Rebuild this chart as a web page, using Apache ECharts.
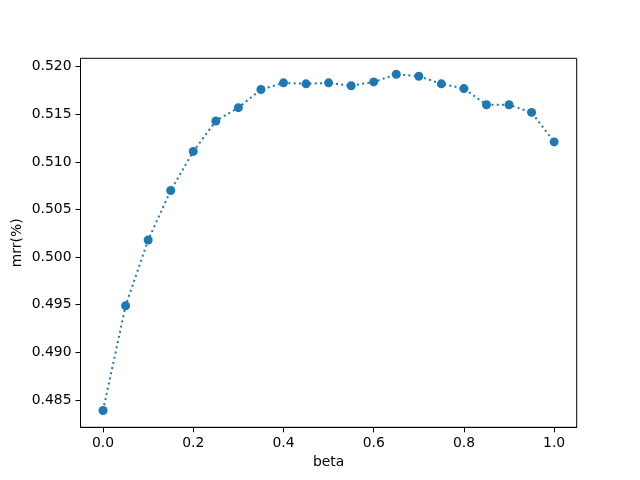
<!DOCTYPE html>
<html>
<head>
<meta charset="utf-8">
<script src="https://cdn.jsdelivr.net/npm/echarts@6/dist/echarts.min.js"></script>
<style>
  html, body { margin: 0; padding: 0; background: #fff; }
  #chart { width: 640px; height: 480px; }
</style>
</head>
<body>
<div id="chart"></div>
<script>
// values
const beta = [0.0, 0.05, 0.1, 0.15, 0.2, 0.25, 0.3, 0.35, 0.4, 0.45, 0.5,
  0.55, 0.6, 0.65, 0.7, 0.75, 0.8, 0.85, 0.9, 0.95, 1.0];
const mrr = [0.4839, 0.4949, 0.5018, 0.5070, 0.5111, 0.5143, 0.5157, 0.5176,
  0.5183, 0.5182, 0.5183, 0.5180, 0.5184, 0.5192, 0.5190, 0.5182, 0.5177,
  0.5160, 0.5160, 0.5152, 0.5121];
const xTicks = [0.0, 0.2, 0.4, 0.6, 0.8, 1.0];
const yTicks = [0.485, 0.490, 0.495, 0.500, 0.505, 0.510, 0.515, 0.520];

const font = "DejaVu Sans";
const chart = echarts.init(document.getElementById("chart"));

chart.setOption({
  animation: false,
  textStyle: { fontFamily: font },
  grid: {
    left: 80.5, right: 63.3, top: 58.3, bottom: 52.7,
    show: true, borderColor: "#000", borderWidth: 1
  },
  xAxis: {
    type: "value",
    min: -0.05, max: 1.05,
    name: "beta",
    nameLocation: "middle",
    nameGap: 27,
    nameTextStyle: { fontFamily: font, fontSize: 13.9, color: "#000" },
    axisLine: { show: true, onZero: false, lineStyle: { color: "#000", width: 1 } },
    axisTick: { show: true, length: 5, lineStyle: { color: "#000" }, customValues: xTicks },
    axisLabel: {
      fontFamily: font, fontSize: 13.9, color: "#000", margin: 9,
      customValues: xTicks,
      formatter: v => v.toFixed(1)
    },
    splitLine: { show: false }
  },
  yAxis: {
    type: "value",
    min: 0.48213, max: 0.52088,
    name: "mrr(%)",
    nameLocation: "middle",
    nameGap: 56,
    nameMoveOverlap: false,
    nameTextStyle: { fontFamily: font, fontSize: 13.9, color: "#000" },
    axisLine: { show: true, onZero: false, lineStyle: { color: "#000", width: 1 } },
    axisTick: { show: true, length: 5, lineStyle: { color: "#000" }, customValues: yTicks },
    axisLabel: {
      fontFamily: font, fontSize: 13.9, color: "#000", margin: 9,
      customValues: yTicks,
      formatter: v => v.toFixed(3)
    },
    splitLine: { show: false }
  },
  series: [{
    type: "line",
    data: beta.map((b, i) => [b, mrr[i]]),
    symbol: "circle",
    symbolSize: 9,
    showSymbol: true,
    itemStyle: { color: "#1f77b4" },
    lineStyle: { color: "#1f77b4", width: 2, type: [2, 3.3] }
  }]
});
</script>
</body>
</html>
